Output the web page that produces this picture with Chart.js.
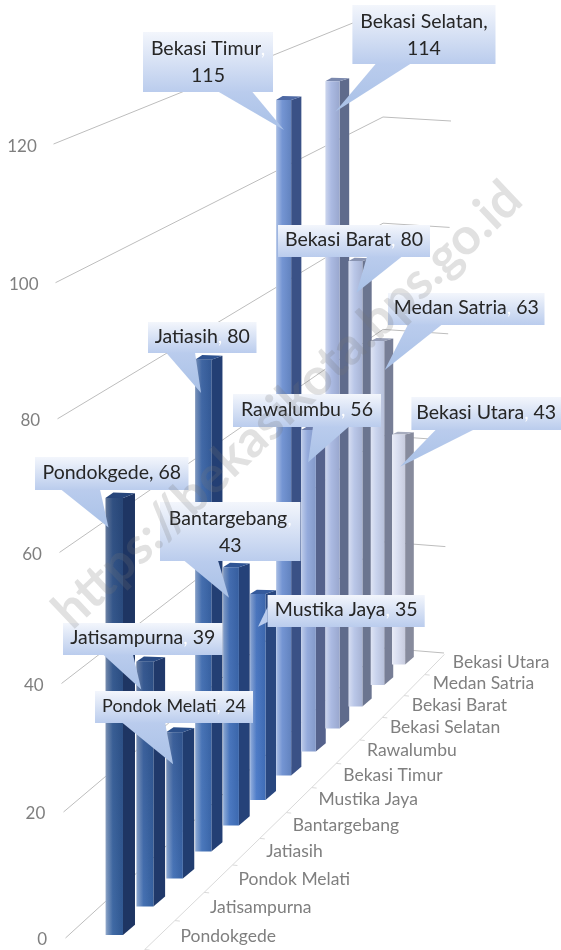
<!DOCTYPE html>
<html>
<head>
<meta charset="utf-8">
<style>html,body{margin:0;padding:0;background:#fff}canvas{display:block}</style>
<script src="https://cdn.jsdelivr.net/npm/chart.js@4"></script>
</head>
<body>
<canvas id="c" width="561" height="950"></canvas>
<script>
const categories = ["Pondokgede","Jatisampurna","Pondok Melati","Jatiasih","Bantargebang","Mustika Jaya","Bekasi Timur","Rawalumbu","Bekasi Selatan","Bekasi Barat","Medan Satria","Bekasi Utara"];
const values = [68,39,24,80,43,35,115,56,114,80,63,43];
const frontColors = ["#34609f","#3a68ad","#3d6cb3","#3f6fb8","#4172bf","#4576c7","#6b8ed0","#8ea6da","#a6b6e0","#b6c3e6","#c6d0ec","#d8ddf0"];
const sideColors  = ["#1e3563","#20396a","#213d70","#233f74","#254279","#29477f","#3a5186","#55628c","#5f6b8c","#6b7590","#777e96","#878b9d"];

/* oblique projection of the category (depth) axis */
const depth = {
  shrinkX: 0.476,
  rise: i => 29*i - 0.4*i*i,
  scale: i => 1 - 0.01536*i,
  front: i => 17.5 - 0.4*i,
  side: i => 12 - 0.3*i,
  cap: i => 5.5 - 0.25*i
};
const FONT = "Lato, Carlito, Calibri, sans-serif";

/* callout layout: box [left, top, right, bottom], pointer base, pointer tip offset from the bar's top-left */
const calloutLayout = [
 {box:[35,457,188.5,490],  base:[61,100],   tip:[3,35],  lines:1, darkComma:true},
 {box:[63,623,222.5,655],  base:[103,133],  tip:[5,33],  lines:1},
 {box:[95,691,253,723],    base:[122,165],  tip:[7,37],  lines:1, size:0.92},
 {box:[148,322,256.5,353], base:[166,195],  tip:[6,38],  lines:1},
 {box:[160,502,300.5,561], base:[184,218],  tip:[6,35],  lines:2},
 {box:[267.6,595,424.7,627], side:[607,622], tip:[8,37], lines:1},
 {box:[143,32,273,92],     base:[218,252],  tip:[8,34],  lines:2},
 {box:[233,394,381,427],   base:[313,349],  tip:[7,36],  lines:1},
 {box:[352.4,5,495.5,64],  base:[376,411],  tip:[10,34], lines:2, darkComma:true},
 {box:[278,225,430,257],   base:[367,402],  tip:[8,35],  lines:1},
 {box:[388,293,544.5,325], base:[408,442],  tip:[14,32], lines:1},
 {box:[411.4,397,561,430], base:[436,474],  tip:[8,35],  lines:1}
];

function mix(a,b,t){
  const p=h=>[1,3,5].map(k=>parseInt(h.substr(k,2),16));
  const A=p(a),B=p(b);
  return 'rgb('+A.map((v,k)=>Math.round(v+(B[k]-v)*t)).join(',')+')';
}

class FrontAxis extends Chart.LinearScale {
  static id = 'frontAxis';
  static defaults = Chart.LinearScale.defaults;
  frontY(v){
    const y0 = this.getPixelForValue(0), d = y0 - this.getPixelForValue(v), t = v/this.max;
    return y0 + 5 - d*1.0166*(0.9426 + 0.0574*t);
  }
  _computeLabelArea(){ return undefined; }
  _computeLabelItems(area){
    const items = super._computeLabelItems(area);
    items.forEach((it,k)=>{
      const v = this.ticks[k].value;
      it.textOffset = 0;
      it.options.textAlign = 'right';
      it.options.textBaseline = 'middle';
      it.options.translation = [47 - 0.085*v, this.frontY(v)];
    });
    return items;
  }
}
class FloorAxis extends Chart.CategoryScale {
  static id = 'floorAxis';
  static defaults = Chart.CategoryScale.defaults;
  leftOf(i){ return this.getPixelForValue(0) + (this.getPixelForValue(1)-this.getPixelForValue(0))*i - depth.shrinkX*i*i - depth.front(0)/2; }
  _computeLabelArea(){ return undefined; }
  _computeLabelItems(area){
    const items = super._computeLabelItems(area);
    const y0 = this.top;
    items.forEach((it,i)=>{
      it.textOffset = 0;
      it.options.textAlign = 'left';
      it.options.textBaseline = 'middle';
      it.options.translation = [this.leftOf(i) + 75 - 1.3*i, y0 - depth.rise(i) + 1 - 0.25*i];
    });
    return items;
  }
}
Chart.register(FrontAxis, FloorAxis);

const projection = {
  id:'projection',
  afterDatasetsUpdate(chart){
    const ctx = chart.ctx, xs = chart.scales.x, ys = chart.scales.y, y0 = ys.getPixelForValue(0);
    chart.getDatasetMeta(0).data.forEach((el,i)=>{
      const l = xs.leftOf(i), w = depth.front(i), base = y0 - depth.rise(i);
      const top = base - (y0 - ys.getPixelForValue(values[i]))*depth.scale(i) + depth.cap(i);
      el.x = l + w/2; el.width = w; el.base = base; el.y = top; el.height = base - top;
      const g = ctx.createLinearGradient(l-1,0,l+w,0), c = frontColors[i];
      g.addColorStop(0, mix(c,'#ffffff',0.75));
      g.addColorStop(0.12, mix(c,'#ffffff',0.38));
      g.addColorStop(0.45, mix(c,'#ffffff',0.06));
      g.addColorStop(1, mix(c,'#000000',0.08));
      el.options = Object.assign({}, el.options, {backgroundColor:g, borderWidth:0});
    });
  },
  beforeDatasetsDraw(chart){
    const ctx = chart.ctx, xs = chart.scales.x, ys = chart.scales.y, y0 = ys.getPixelForValue(0);
    ctx.save();
    ctx.lineWidth = 1;
    ctx.strokeStyle = '#bdbdbd';
    ys.ticks.forEach(t=>{
      const v = t.value, fy = ys.frontY(v) - 2;
      ctx.beginPath();
      ctx.moveTo(65.5 - 0.1*v, fy);
      ctx.lineTo(383, 648 - 5.31*v);
      ctx.lineTo(444 + 0.07*v, 653 - 5.32*v);
      ctx.stroke();
    });
    /* floor edge and its category ticks */
    const ex = k => xs.leftOf(k) + 54.4 - 1.07*k, ey = k => y0 - depth.rise(k);
    ctx.strokeStyle = '#d9d9d9';
    ctx.beginPath();
    ctx.moveTo(ex(-0.5), ey(-0.5));
    for (let k=0.5;k<=11.5;k++) ctx.lineTo(ex(k), ey(k));
    ctx.stroke();
    for (let k=-0.5;k<11.5;k++){
      ctx.beginPath(); ctx.moveTo(ex(k), ey(k)); ctx.lineTo(ex(k)+5, ey(k)+0.5); ctx.stroke();
    }
    ctx.restore();
  },
  beforeDatasetDraw(chart){
    const ctx = chart.ctx;
    chart.getDatasetMeta(0).data.forEach((el,i)=>{
      const l = el.x - el.width/2, r = el.x + el.width/2, s = depth.side(i), cap = depth.cap(i);
      ctx.fillStyle = sideColors[i];
      ctx.beginPath();
      ctx.moveTo(r, el.base); ctx.lineTo(r+s, el.base-0.85*s); ctx.lineTo(r+s, el.y-cap*0.85); ctx.lineTo(r, el.y);
      ctx.closePath(); ctx.fill();
      ctx.fillStyle = mix(sideColors[i], frontColors[i], 0.4);
      ctx.beginPath();
      ctx.moveTo(l, el.y); ctx.lineTo(r, el.y); ctx.lineTo(r+s, el.y-cap*0.85); ctx.lineTo(l+0.65*s, el.y-cap);
      ctx.closePath(); ctx.fill();
    });
  },
  afterDatasetDraw(chart){
    /* the blue bars darken towards their tops */
    const ctx = chart.ctx;
    chart.getDatasetMeta(0).data.forEach((el,i)=>{
      if (i>5) return;
      const g = ctx.createLinearGradient(0,el.y,0,el.base);
      g.addColorStop(0,'rgba(25,40,75,'+(0.4*(1-i/7))+')');
      g.addColorStop(1,'rgba(25,40,75,0)');
      ctx.fillStyle = g;
      ctx.fillRect(el.x-el.width/2, el.y, el.width, el.base-el.y);
    });
  },
  afterDatasetsDraw(chart){
    const ctx = chart.ctx, size = 19.5;
    chart.getDatasetMeta(0).data.forEach((el,i)=>{
      const c = calloutLayout[i], [L,T,R,B] = c.box;
      const tx = el.x - el.width/2 + c.tip[0], ty = el.y - depth.cap(i) + c.tip[1];
      const g = ctx.createLinearGradient(0,T,0,B);
      g.addColorStop(0,'#f3f6fc'); g.addColorStop(1,'#bacced');
      ctx.fillStyle = g;
      ctx.fillRect(L,T,R-L,B-T);
      const pg = ctx.createLinearGradient(0,B-1,0,Math.max(ty,B));
      pg.addColorStop(0,'#bacced'); pg.addColorStop(1,'#a9c1e7');
      ctx.fillStyle = c.side ? '#bacced' : pg;
      ctx.beginPath();
      if (c.side){ ctx.moveTo(L,c.side[0]); ctx.lineTo(tx,ty); ctx.lineTo(L,c.side[1]); }
      else { ctx.moveTo(c.base[0],B-0.5); ctx.lineTo(tx,ty); ctx.lineTo(c.base[1],B-0.5); }
      ctx.closePath(); ctx.fill();

      ctx.font = (size*(c.size||1))+'px '+FONT;
      ctx.textBaseline = 'middle';
      const cx = (L+R)/2;
      const name = categories[i], val = String(values[i]);
      const ink = (text, commaAt, x, y)=>{
        const w = ctx.measureText(text).width, x0 = x - w/2;
        if (commaAt<0 || c.darkComma){ ctx.fillStyle='#262626'; }
        else {
          const a = ctx.measureText(text.slice(0,commaAt)).width/w, b = ctx.measureText(text.slice(0,commaAt+1)).width/w;
          const t = ctx.createLinearGradient(x0,0,x0+w,0);
          t.addColorStop(0,'#262626'); t.addColorStop(a,'#262626'); t.addColorStop(a,'#ffffff');
          t.addColorStop(b,'#ffffff'); t.addColorStop(b,'#262626'); t.addColorStop(1,'#262626');
          ctx.fillStyle = t;
        }
        ctx.textAlign='center';
        ctx.fillText(text,x,y);
      };
      if (c.lines===2){
        ink(name+',', name.length, cx, T+17);
        ink(val, -1, cx, T+44);
      } else {
        ink(name+', '+val, name.length, cx, (T+B)/2-1);
      }
    });
  },
  afterDraw(chart){
    const ctx = chart.ctx;
    ctx.save();
    ctx.translate(287.5,405);
    ctx.rotate(-43.4*Math.PI/180);
    ctx.font = 'bold 51px '+FONT;
    ctx.textAlign='center'; ctx.textBaseline='middle';
    ctx.fillStyle='rgba(120,120,120,0.22)';
    ctx.fillText('https://bekasikota.bps.go.id',0,0);
    ctx.restore();
  }
};

new Chart(document.getElementById('c'),{
  type:'bar',
  data:{labels:categories,datasets:[{data:values,backgroundColor:frontColors,borderWidth:0,clip:false}]},
  options:{
    responsive:false,animation:false,events:[],
    layout:{padding:{left:38.6,right:87,top:154,bottom:0}},
    plugins:{legend:{display:false},tooltip:{enabled:false}},
    scales:{
      x:{type:'floorAxis',offset:true,grid:{display:false},border:{display:false},
         afterFit(s){s.height=15;},
         ticks:{autoSkip:false,maxRotation:0,minRotation:0,color:'#7f7f7f',font:{family:FONT,size:17.5}}},
      y:{type:'frontAxis',min:0,max:120,grid:{display:false},border:{display:false},
         afterFit(s){s.width=60;},
         ticks:{stepSize:20,color:'#7f7f7f',font:{family:FONT,size:17}}}
    }
  },
  plugins:[projection]
});
</script>
</body>
</html>
